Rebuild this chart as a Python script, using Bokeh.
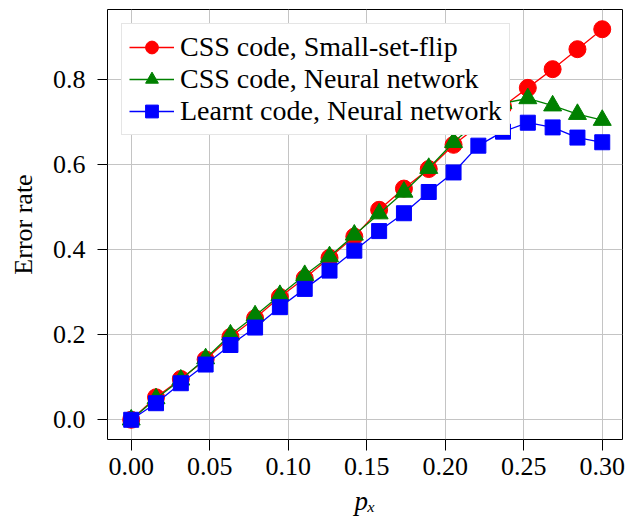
from bokeh.plotting import figure
from bokeh.models import Range1d, FixedTicker, PrintfTickFormatter, Legend
from bokeh.embed import file_html
from bokeh.resources import INLINE

px = [0.0, 0.0158, 0.0316, 0.0474, 0.0632, 0.0789, 0.0947, 0.1105, 0.1263, 0.1421,
      0.1579, 0.1737, 0.1895, 0.2053, 0.2211, 0.2368, 0.2526, 0.2684, 0.2842, 0.3]
css_ssf = [0.0, 0.053, 0.096, 0.142, 0.195, 0.239, 0.289, 0.333, 0.381, 0.431,
           0.494, 0.544, 0.590, 0.647, 0.692, 0.737, 0.781, 0.825, 0.872, 0.919]
css_nn = [0.0, 0.050, 0.094, 0.144, 0.200, 0.245, 0.293, 0.340, 0.384, 0.435,
          0.485, 0.536, 0.592, 0.653, 0.703, 0.745, 0.756, 0.739, 0.719, 0.705]
learnt_nn = [0.0, 0.039, 0.086, 0.130, 0.176, 0.217, 0.265, 0.308, 0.351, 0.398,
             0.444, 0.486, 0.536, 0.582, 0.645, 0.678, 0.699, 0.688, 0.664, 0.653]

labels = ["CSS code, Small-set-flip", "CSS code, Neural network", "Learnt code, Neural network"]
x_ticks = [0.0, 0.05, 0.10, 0.15, 0.20, 0.25, 0.30]
y_ticks = [0.0, 0.2, 0.4, 0.6, 0.8]

FONT = "Liberation Serif"
FS = "26px"

p = figure(width=629, height=518, output_backend="svg", toolbar_location=None,
           title=None,
           x_range=Range1d(-0.0151, 0.3129), y_range=Range1d(-0.0464, 0.9654),
           min_border_left=107, min_border_right=7, min_border_top=9, min_border_bottom=79)

p.outline_line_color = "black"
p.outline_line_width = 1

for ax in (p.xaxis[0], p.yaxis[0]):
    ax.axis_line_color = None
    ax.major_tick_line_color = "black"
    ax.major_tick_in = 0
    ax.minor_tick_line_color = None
    ax.major_label_text_font = FONT
    ax.major_label_text_font_size = FS
    ax.major_label_text_color = "black"
    ax.axis_label_text_font = FONT
    ax.axis_label_text_font_size = FS
    ax.axis_label_text_font_style = "normal"
    ax.axis_label_text_color = "black"

p.xaxis.ticker = FixedTicker(ticks=x_ticks)
p.xaxis.formatter = PrintfTickFormatter(format="%.2f")
p.xaxis.major_tick_out = 11
p.xaxis.major_label_standoff = 7
p.xaxis.axis_label = "pₓ"
p.xaxis.axis_label_text_font_style = "italic"
p.xaxis.axis_label_text_font_size = "27px"
p.xaxis.axis_label_standoff = 8

p.yaxis.ticker = FixedTicker(ticks=y_ticks)
p.yaxis.formatter = PrintfTickFormatter(format="%.1f")
p.yaxis.major_tick_out = 10
p.yaxis.major_label_standoff = 12
p.yaxis.axis_label = "Error rate"
p.yaxis.axis_label_standoff = 12

p.xgrid.grid_line_color = "#c4c4c4"
p.ygrid.grid_line_color = "#c4c4c4"
p.xgrid.grid_line_width = 1
p.ygrid.grid_line_width = 1

lw = 1.3
r1l = p.line(px, css_ssf, color="red", line_width=lw)
r1m = p.scatter(px, css_ssf, marker="circle", size=17, color="red")
r2l = p.line(px, css_nn, color="green", line_width=lw)
r2m = p.scatter(px, css_nn, marker="triangle", size=18, color="green")
r3l = p.line(px, learnt_nn, color="blue", line_width=lw)
r3m = p.scatter(px, learnt_nn, marker="square", size=15, color="blue")

legend = Legend(items=[(labels[0], [r1l, r1m]), (labels[1], [r2l, r2m]), (labels[2], [r3l, r3m])],
                location="top_left", margin=14, padding=7, spacing=0,
                glyph_width=45, glyph_height=32, label_height=32, label_standoff=6,
                label_text_font=FONT, label_text_font_size="28px", label_text_color="black",
                border_line_color="#cccccc", border_line_width=1,
                background_fill_color="white", background_fill_alpha=1.0)
p.add_layout(legend)

open("out.html", "w").write(file_html(p, INLINE))
